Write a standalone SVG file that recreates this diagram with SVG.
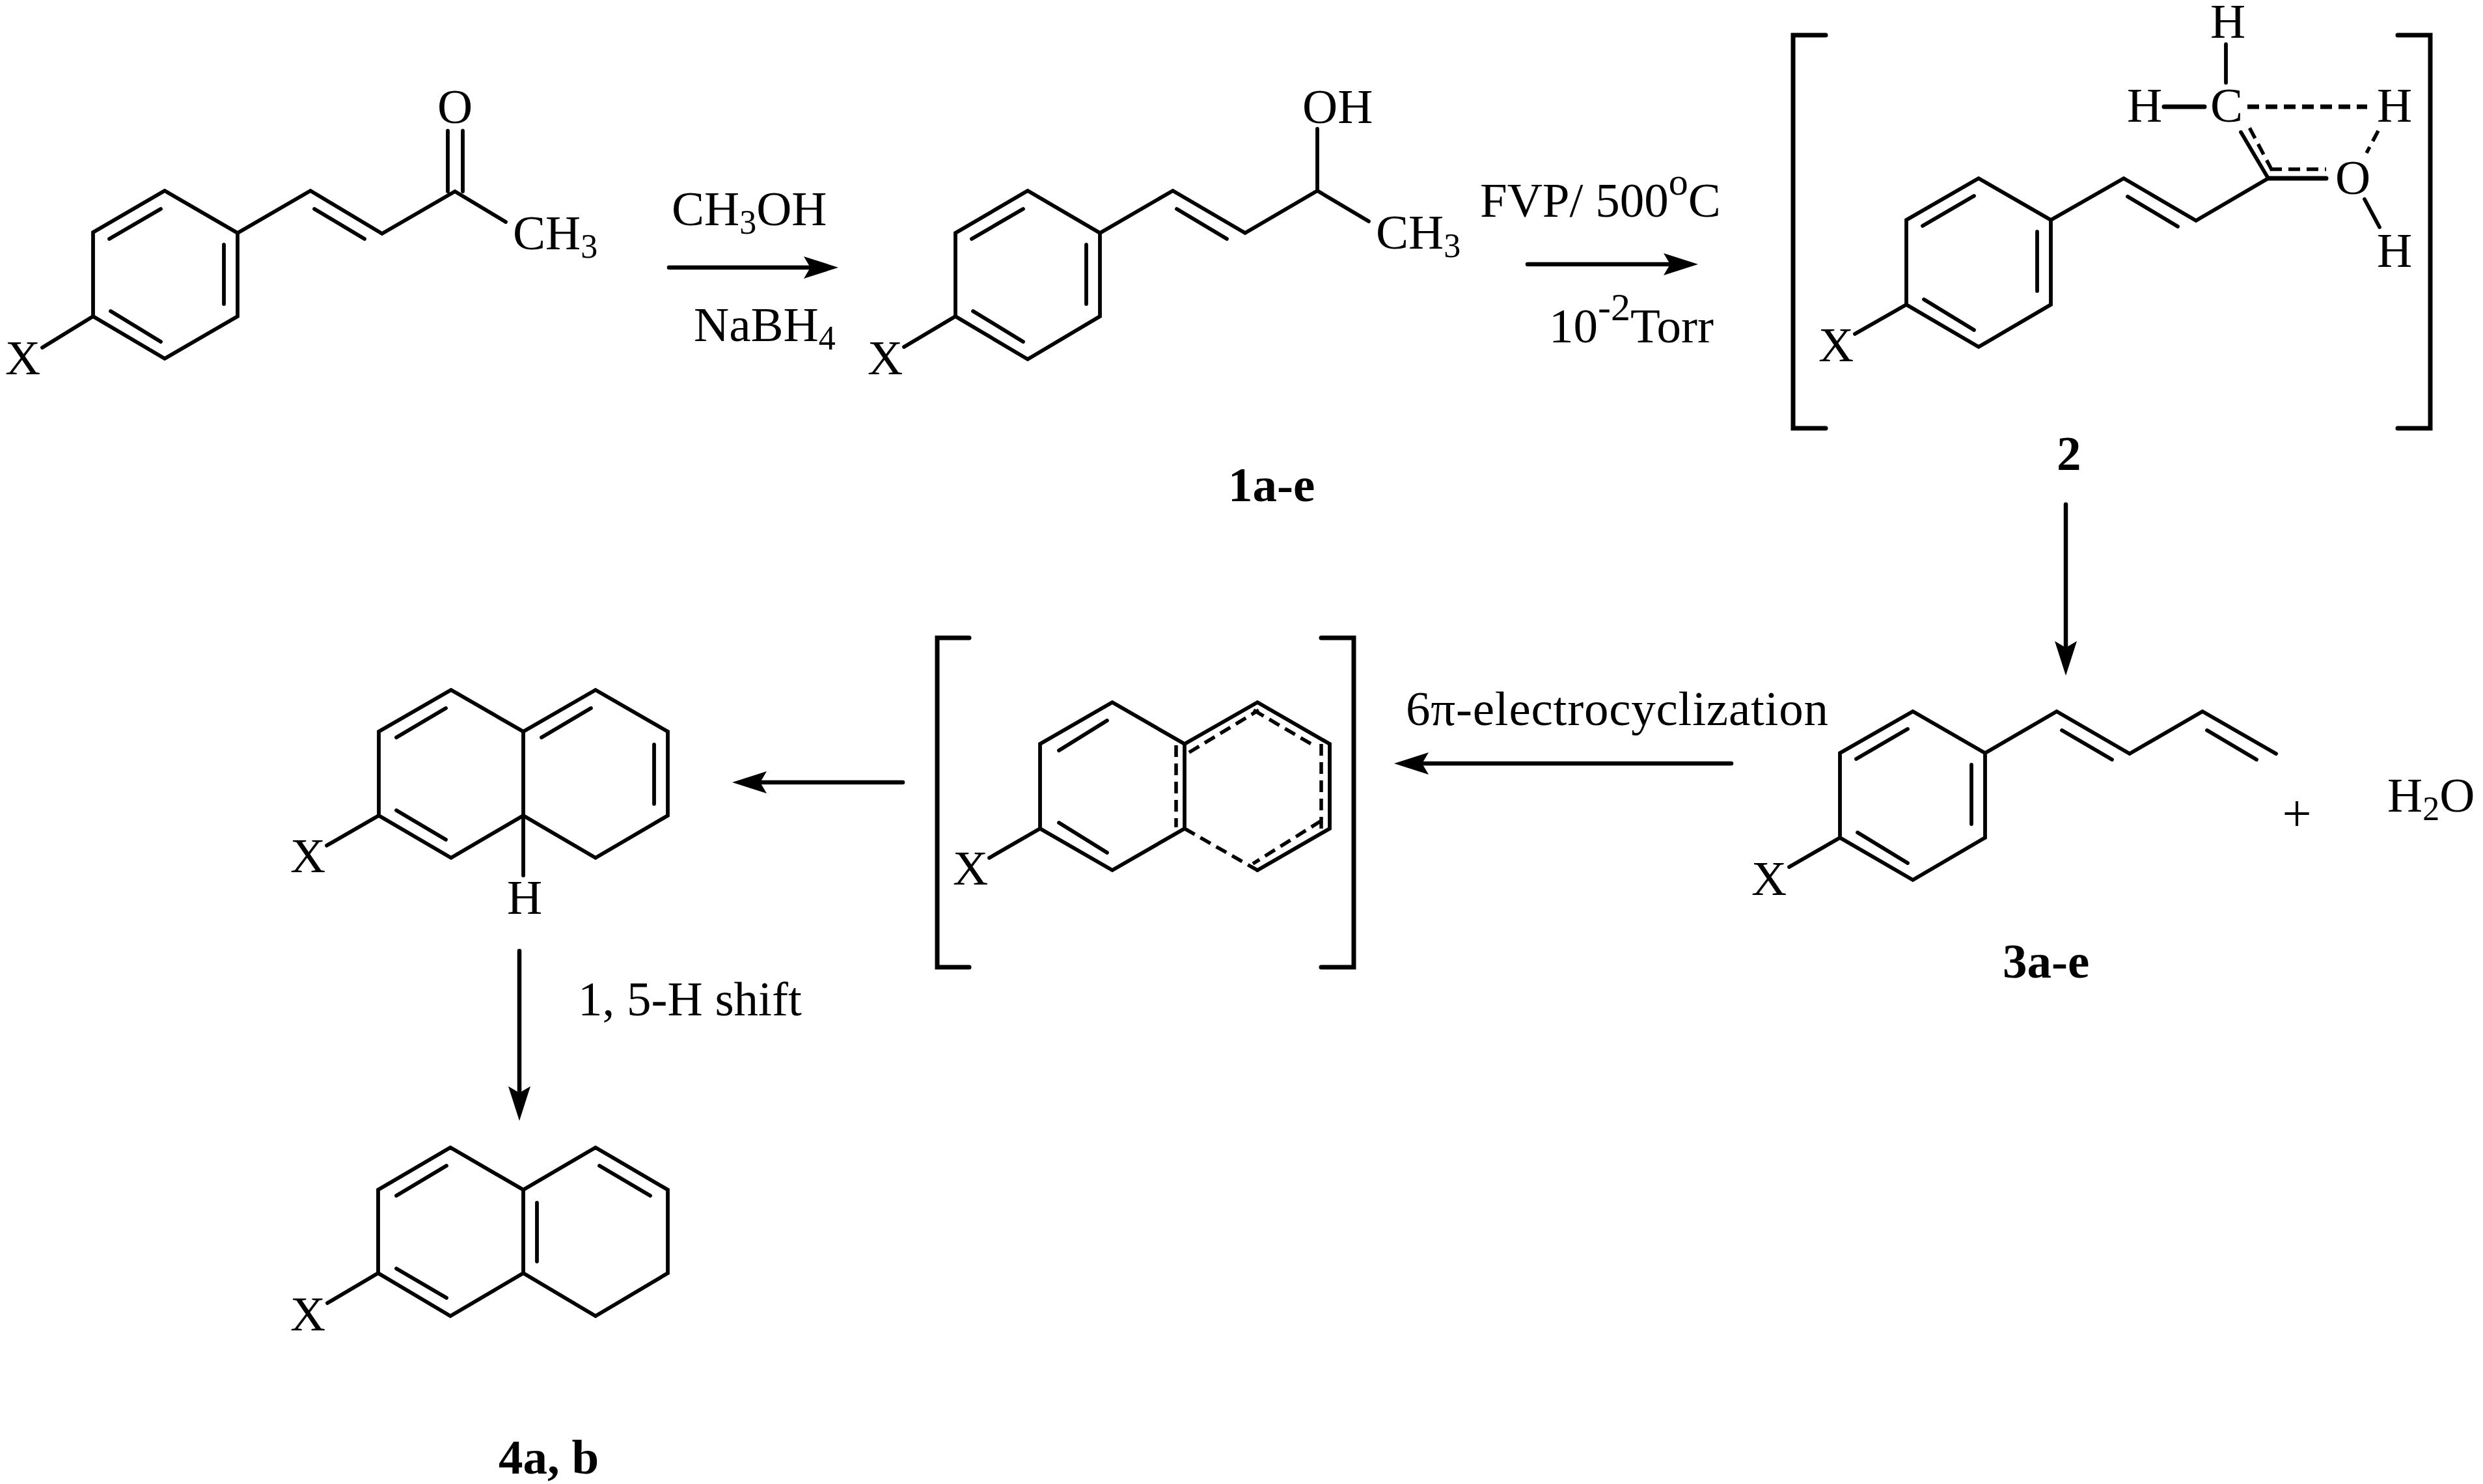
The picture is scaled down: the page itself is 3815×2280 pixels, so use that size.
<svg xmlns="http://www.w3.org/2000/svg" width="3815" height="2280" viewBox="0 0 3815 2280">
<style>
text{font-family:"Liberation Serif","Times New Roman",serif;font-size:75px;fill:#000}
.b{font-weight:bold}
.s{font-size:52px}
.u{font-size:60px}
path{fill:none;stroke:#000;stroke-width:5.8;stroke-linecap:round;stroke-linejoin:miter}
.d{stroke-dasharray:18 10;stroke-linecap:butt;stroke-width:5.5}
.k{stroke-width:7}
.a{stroke-width:6.5;marker-end:url(#head)}
</style>
<defs>
<marker id="head" markerUnits="userSpaceOnUse" markerWidth="56" markerHeight="36" refX="10" refY="17" orient="auto">
<polygon points="0,0 53,17 0,34 10,17" fill="#000"/>
</marker>
</defs>
<rect width="3815" height="2280" fill="#fff"/>

<g id="connectors">
<path class="a" d="M1028 411H1245"/>
<path class="a" d="M2347 406H2566"/>
<path class="a" d="M3174 775V995"/>
<path class="a" d="M2660 1173H2185"/>
<path class="a" d="M1387 1202H1168"/>
<path class="a" d="M798 1461V1679"/>
</g>

<g id="enone">
<path d="M253 293L143 357V486L253 551L365 486V358L253 293M168 367L247 321M344 376V467M170 478L247 525M365 358L477 293L587 359L699 294L777 341M483 321L560 367M688 294V201M711 294V201M143 486L65 534"/>
<text x="672" y="189">O</text>
<text x="788" y="383">CH<tspan class="s" dy="13">3</tspan></text>
<text x="8" y="575">X</text>
</g>

<g id="reagents-1">
<text x="1032" y="346">CH<tspan class="s" dy="13">3</tspan><tspan dy="-13">OH</tspan></text>
<text x="1066" y="524">NaBH<tspan class="s" dy="13">4</tspan></text>
</g>

<g id="compound-1">
<path d="M1579 293L1468 358V486L1579 552L1690 486V358L1579 293M1493 367L1572 321M1669 376V467M1495 478L1572 525M1690 358L1802 293L1913 358L2024 293L2103 340M1808 321L1885 367M2024 293V198M1468 486L1389 533"/>
<text x="2001" y="189">OH</text>
<text x="2114" y="382">CH<tspan class="s" dy="13">3</tspan></text>
<text x="1333" y="575">X</text>
<text class="b" x="1887" y="770">1a-e</text>
</g>

<g id="reagents-2">
<text x="2274" y="333">FVP/ 500<tspan class="u" dy="-34">o</tspan><tspan dy="34">C</tspan></text>
<text x="2380" y="526">10<tspan class="u" dy="-34">-2</tspan><tspan dy="34">Torr</tspan></text>
</g>

<g id="compound-2">
<path class="k" d="M2805 54H2755V658H2805M3684 54H3734V658H3684"/>
<path d="M3040 274L2929 338V468L3040 533L3151 468V338L3040 274M2954 347L3033 301M3130 356V447M2956 460L3033 507M3151 338L3263 274L3374 339L3485 274M3269 302L3346 348M2929 468L2850 513"/>
<path d="M3485 274L3443 203M3420 68V127"/>
<path class="k" d="M3485 274H3574M3325 164H3387"/>
<path class="d" d="M3491 262L3455 194M3488 260H3574"/>
<path class="d k" d="M3453 164H3637"/>
<path class="d" d="M3654 201L3636 235"/>
<path d="M3633 306L3656 349"/>
<text x="3396" y="58">H</text>
<text x="3268" y="187">H</text>
<text x="3396" y="187">C</text>
<text x="3652" y="187">H</text>
<text x="3588" y="298">O</text>
<text x="3652" y="410">H</text>
<text x="2794" y="555">X</text>
<text class="b" x="3160" y="722">2</text>
</g>

<g id="compound-3">
<path d="M2939 1093L2827 1157V1287L2939 1352L3050 1287V1157L2939 1093M2852 1166L2931 1120M3029 1175V1266M2854 1279L2931 1326M3050 1157L3160 1093L3272 1158L3384 1093L3497 1158M3168 1122L3245 1167M3391 1122L3467 1167M2827 1287L2749 1332"/>
<text x="2691" y="1375">X</text>
<text class="b" x="3077" y="1502">3a-e</text>
</g>

<g id="water">
<text x="3529" y="1277" text-anchor="middle" style="font-size:80px">+</text>
<text x="3668" y="1247">H<tspan class="s" dy="13">2</tspan><tspan dy="-13">O</tspan></text>
</g>

<g id="label-electrocyclization">
<text x="2160" y="1114" textLength="649" lengthAdjust="spacing">6π-electrocyclization</text>
</g>

<g id="transition-state">
<path class="k" d="M1489 980H1440V1486H1489M2030 980H2080V1486H2030"/>
<path d="M1709 1079L1598 1143V1273L1709 1337L1820 1273V1143L1709 1079M1627 1153L1701 1107M1627 1264L1701 1310M1820 1143L1932 1079L2043 1143V1273L1932 1337M1598 1273L1520 1318"/>
<path class="d" d="M1807 1145V1271M1827 1156L1934 1091M1926 1091L2018 1145M2030 1143V1273M2030 1261L1925 1327M1820 1273L1932 1337"/>
<text x="1464" y="1359">X</text>
</g>

<g id="dihydronaphthalene-H">
<path d="M693 1060L582 1124V1253L693 1318L804 1253V1124L693 1060M609 1133L685 1088M609 1245L685 1290M804 1124L915 1060L1026 1124V1253L915 1318L804 1253M832 1133L908 1088M1005 1144V1235M804 1253V1345M582 1253L502 1299"/>
<text x="779" y="1404">H</text>
<text x="446" y="1340">X</text>
</g>

<g id="label-shift">
<text x="888" y="1560">1, 5-H shift</text>
</g>

<g id="compound-4">
<path d="M692 1763L581 1828V1956L692 2022L804 1956V1828L692 1763M609 1837L686 1791M609 1949L686 1994M804 1828L915 1763L1026 1828V1956L915 2022L804 1956M825 1848V1938M921 1791L999 1837M581 1956L503 2002"/>
<text x="446" y="2044">X</text>
<text class="b" x="766" y="2264">4a, b</text>
</g>
</svg>
